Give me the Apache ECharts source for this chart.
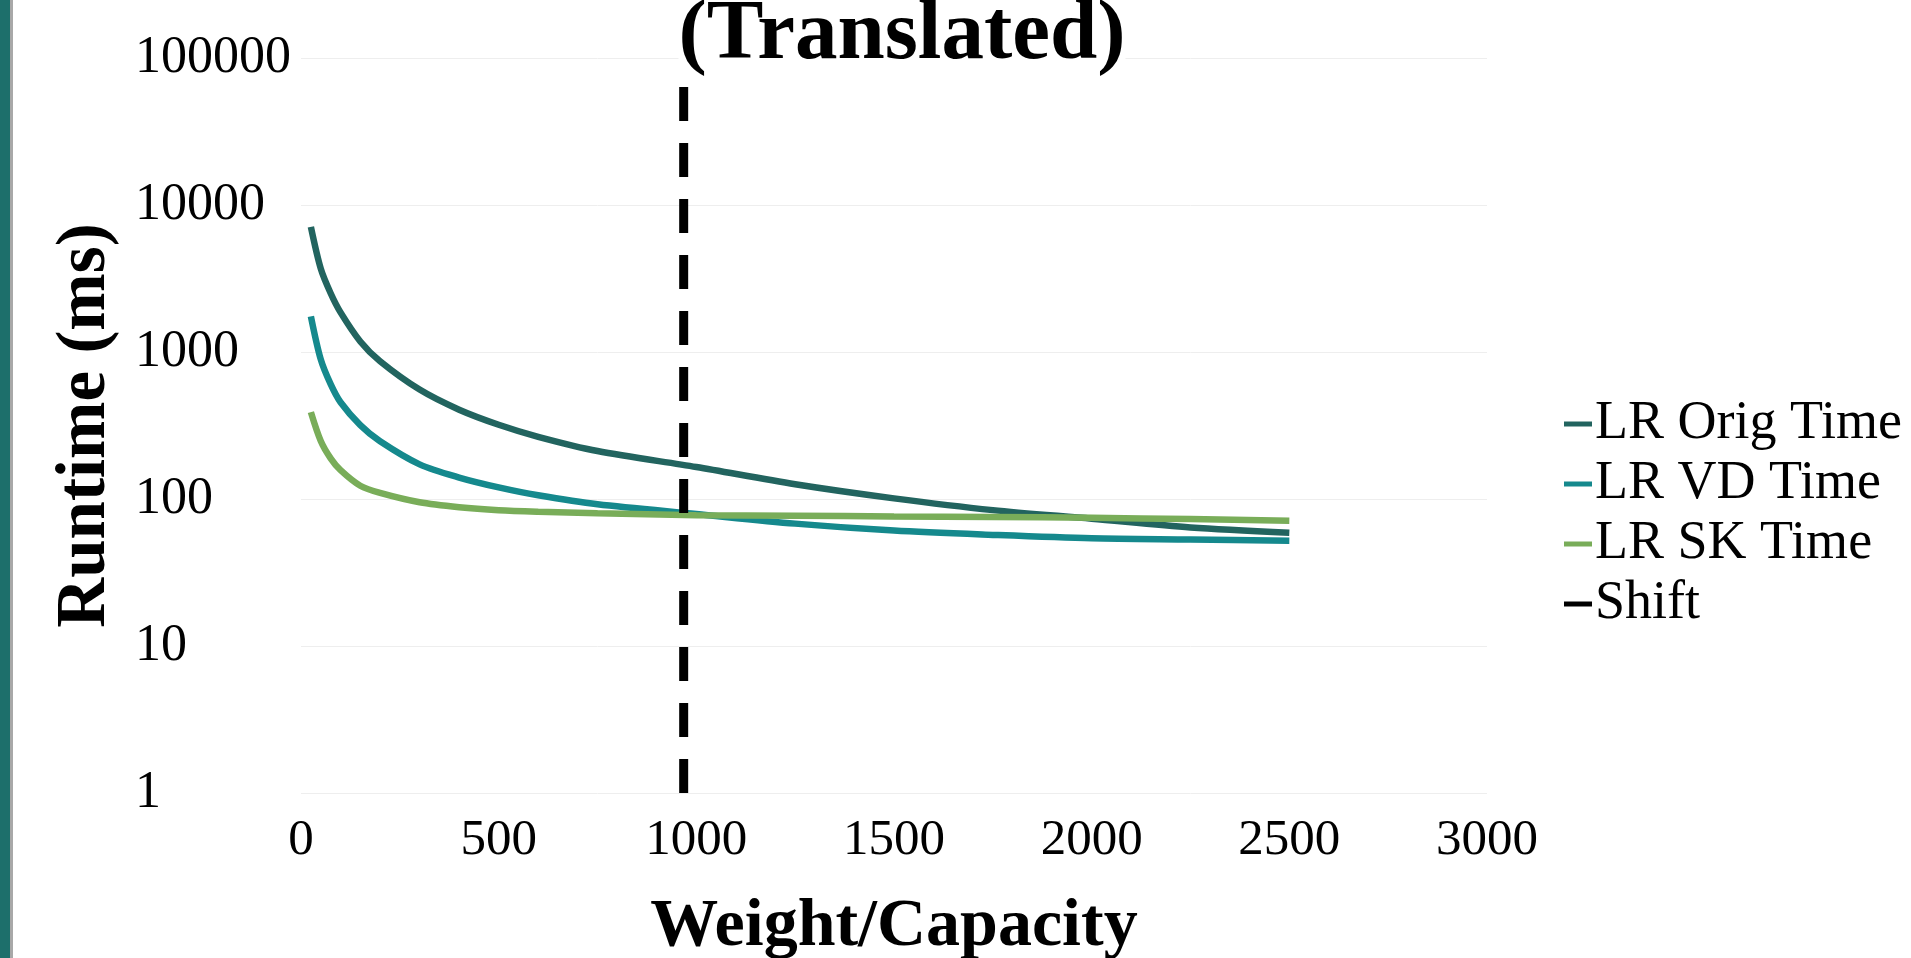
<!DOCTYPE html>
<html><head><meta charset="utf-8">
<script src="https://cdn.jsdelivr.net/npm/echarts@6/dist/echarts.min.js"></script>
<style>html,body{margin:0;padding:0;background:#fff}#c{width:1911px;height:958px}</style>
</head><body><div id="c"></div>
<script>
const xValues  = [25, 50, 75, 100, 150, 200, 300, 400, 500, 600, 750, 1000, 1250, 1500, 1750, 2000, 2250, 2500];
const origTime = [7100, 3690, 2510, 1860, 1180, 865, 555, 405, 320, 265, 212, 165, 126, 101, 84, 73.5, 64, 59];
const vdTime   = [1750, 890, 604, 455, 318, 247, 172, 140, 120, 106, 92, 79, 68, 61, 57, 54, 53, 52];
const skTime   = [390, 248, 189, 157, 123, 110, 95, 88, 84, 82, 80, 77.6, 77, 76, 75.5, 74.5, 73, 71];
const shiftX   = [968, 968];
const shiftY   = [1, 65000];
const xTickLabels = ['0', '500', '1000', '1500', '2000', '2500', '3000'];
const yTickLabels = ['1', '10', '100', '1000', '10000', '100000'];
const seriesNames = ['LR Orig Time', 'LR VD Time', 'LR SK Time', 'Shift'];
const titleText = '(Translated)';
const xName = 'Weight/Capacity';
const yName = 'Runtime (ms)';

const FONT = '"Liberation Serif", "Times New Roman", serif';
const pairs = (xs, ys) => xs.map((x, i) => [x, ys[i]]);

const chart = echarts.init(document.getElementById('c'), null, {renderer: 'canvas'});
chart.setOption({
  backgroundColor: '#ffffff',
  animation: false,
  graphic: [
    {type: 'rect', left: 0, top: 0, shape: {width: 10, height: 958}, style: {fill: '#1d6f6b'}, z: 100},
    {type: 'rect', left: 10, top: 0, shape: {width: 3, height: 958}, style: {fill: '#a8a8a8'}, z: 100}
  ],
  title: {
    text: titleText,
    left: 902, top: -6,
    textAlign: 'center',
    padding: 0,
    z: 10,
    backgroundColor: '#ffffff',
    textStyle: {fontFamily: FONT, fontSize: 85, lineHeight: 85, fontWeight: 'bold', color: '#000'}
  },
  legend: {
    orient: 'vertical',
    left: 1559, top: 392,
    itemWidth: 28, itemHeight: 5, itemGap: 6,
    icon: 'rect',
    data: seriesNames,
    textStyle: {fontFamily: FONT, fontSize: 54, lineHeight: 54, color: '#000', padding: [0, 0, 0, -2]}
  },
  grid: {left: 301, top: 58, width: 1186, height: 735, containLabel: false, outerBoundsMode: 'none'},
  xAxis: {
    type: 'value', min: 0, max: 3000, interval: 500,
    name: xName, nameLocation: 'middle', nameGap: 100,
    nameTextStyle: {fontFamily: FONT, fontSize: 68, lineHeight: 68, fontWeight: 'bold', color: '#000'},
    axisLine: {show: false}, axisTick: {show: false}, splitLine: {show: false},
    axisLabel: {
      fontFamily: FONT, fontSize: 51, lineHeight: 51, color: '#000', margin: 22,
      formatter: v => xTickLabels[Math.round(v / 500)]
    }
  },
  yAxis: {
    type: 'log', logBase: 10, min: 1, max: 100000,
    name: yName, nameLocation: 'middle', nameGap: 180,
    nameTextStyle: {fontFamily: FONT, fontSize: 69, lineHeight: 69, fontWeight: 'bold', color: '#000'},
    axisLine: {show: false}, axisTick: {show: false},
    splitLine: {show: true, lineStyle: {color: '#eeeeee', width: 1}},
    axisLabel: {
      fontFamily: FONT, fontSize: 52, lineHeight: 52, color: '#000', margin: 166, align: 'left',
      padding: [6, 0, 0, 0],
      formatter: v => yTickLabels[Math.round(Math.log10(v))]
    }
  },
  series: [
    {name: seriesNames[0], type: 'line', data: pairs(xValues, origTime), smooth: 0.3, showSymbol: false, symbol: 'none',
     lineStyle: {color: '#22645f', width: 6.5}, itemStyle: {color: '#22645f'}, z: 3},
    {name: seriesNames[1], type: 'line', data: pairs(xValues, vdTime), smooth: 0.3, showSymbol: false, symbol: 'none',
     lineStyle: {color: '#15898d', width: 6.5}, itemStyle: {color: '#15898d'}, z: 3},
    {name: seriesNames[2], type: 'line', data: pairs(xValues, skTime), smooth: 0.3, showSymbol: false, symbol: 'none',
     lineStyle: {color: '#79ad59', width: 6.5}, itemStyle: {color: '#79ad59'}, z: 4},
    {name: seriesNames[3], type: 'line', data: pairs(shiftX, shiftY), showSymbol: false, symbol: 'none',
     lineStyle: {color: '#000000', width: 9, type: [34, 22], cap: 'butt'}, itemStyle: {color: '#000000'}, z: 5}
  ]
});
</script></body></html>
